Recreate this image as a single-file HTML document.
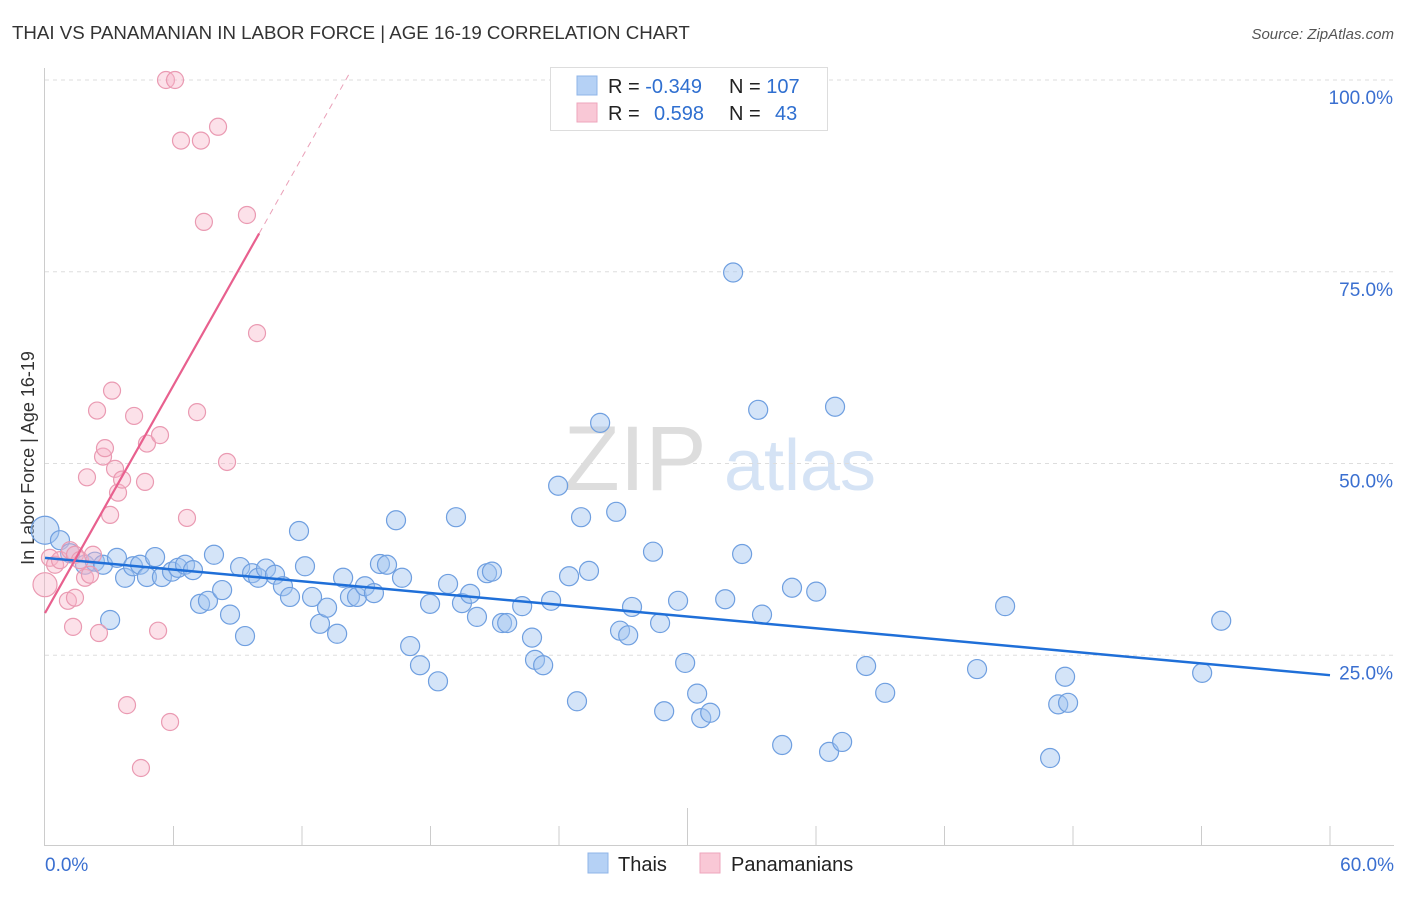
<!DOCTYPE html>
<html><head><meta charset="utf-8"><style>
body{margin:0;background:#fff;width:1406px;height:892px;overflow:hidden;font-family:"Liberation Sans",sans-serif}
svg text{font-family:"Liberation Sans",sans-serif}
</style></head><body>
<svg id="c" width="1406" height="892" xmlns="http://www.w3.org/2000/svg">
<text x="12" y="39" font-size="18.7" fill="#333">THAI VS PANAMANIAN IN LABOR FORCE | AGE 16-19 CORRELATION CHART</text>
<text x="1394" y="39" font-size="15" fill="#555" font-style="italic" text-anchor="end">Source: ZipAtlas.com</text>
<text x="635" y="490" font-size="92" fill="#ddd" font-family="Liberation Serif" text-anchor="middle">ZIP</text>
<text x="800" y="490" font-size="72" fill="#d5e3f5" text-anchor="middle">atlas</text>
<text transform="translate(34,458) rotate(-90)" font-size="18" fill="#333" text-anchor="middle">In Labor Force | Age 16-19</text>
<g id="grid"></g><g id="pts"></g><g id="lines"></g>
<g>
<rect x="550.5" y="67.5" width="277" height="63" fill="#fff" stroke="#ddd"/>
<rect x="577" y="76" width="20" height="19" fill="#b5d1f5" stroke="#8fb5e8"/>
<rect x="577" y="103" width="20" height="19" fill="#f9c8d6" stroke="#eea6bc"/>
<text x="608" y="93" font-size="20" fill="#222">R = <tspan fill="#2f6fd0">-0.349</tspan></text>
<text x="729" y="93" font-size="20" fill="#222">N = <tspan fill="#2f6fd0">107</tspan></text>
<text x="608" y="120" font-size="20" fill="#222">R = <tspan fill="#2f6fd0" x="654">0.598</tspan></text>
<text x="729" y="120" font-size="20" fill="#222">N = <tspan fill="#2f6fd0" x="775">43</tspan></text>
</g>
<g>
<rect x="588" y="853" width="20" height="20" fill="#b5d1f5" stroke="#8fb5e8"/>
<text x="618" y="871" font-size="20" fill="#222">Thais</text>
<rect x="700" y="853" width="20" height="20" fill="#f9c8d6" stroke="#eea6bc"/>
<text x="731" y="871" font-size="20" fill="#222">Panamanians</text>
</g>
<text x="45" y="871" font-size="19" fill="#3a6fd0">0.0%</text>
<text x="1394" y="871" font-size="19" fill="#3a6fd0" text-anchor="end">60.0%</text>
</svg>
<script>
const thaiX=[0,0.7,1.17,1.87,2.33,2.71,3.36,3.04,3.74,4.11,4.44,4.76,5.14,5.46,5.93,6.21,6.54,6.91,7.24,7.61,7.89,8.27,8.64,9.11,9.34,9.67,9.95,10.32,10.74,11.11,11.44,11.86,12.14,12.47,12.84,13.17,13.64,13.92,14.24,14.57,14.94,15.36,15.64,15.97,16.39,16.67,17.05,17.51,17.98,18.35,18.82,19.19,19.47,19.85,20.17,20.64,20.87,21.34,21.58,22.28,22.74,22.88,23.26,23.63,23.96,24.47,24.84,25.03,25.40,25.92,26.67,26.85,27.23,27.41,28.39,28.72,28.91,29.56,29.89,30.45,30.64,31.06,31.76,32.13,32.55,33.30,33.48,34.42,34.88,36.01,36.61,36.89,37.22,38.34,39.23,43.52,44.83,46.93,47.31,47.63,47.77,54.03,54.92];
const thaiY=[41.3,40.0,38.3,36.8,37.2,36.8,37.7,29.6,35.1,36.6,36.8,35.2,37.8,35.2,35.9,36.4,36.8,36.1,31.7,32.1,38.1,33.5,30.3,36.5,27.5,35.7,35.1,36.3,35.5,34.0,32.6,41.2,36.6,32.6,29.1,31.2,27.8,35.1,32.6,32.6,34.0,33.1,36.9,36.8,42.6,35.1,26.2,23.7,31.7,21.6,34.3,43.0,31.8,33.0,30.0,35.7,35.9,29.2,29.2,31.4,27.3,24.4,23.7,32.1,47.1,35.3,19.0,43.0,36.0,55.3,43.7,28.2,27.6,31.3,38.5,29.2,17.7,32.1,24.0,20.0,16.8,17.5,32.3,74.9,38.2,57.0,30.3,13.3,33.8,33.3,12.4,57.4,13.7,23.6,20.1,23.2,31.4,11.6,18.6,22.2,18.8,22.7,29.5];
const panX=[0,0.23,0.47,0.7,1.17,1.4,1.63,1.87,2.1,2.24,1.07,1.31,1.4,2.52,3.04,1.96,2.71,2.8,3.27,3.41,3.6,2.43,3.13,4.16,4.67,4.76,5.37,6.63,5.28,3.83,5.84,4.48,7.1,8.5,9.9,5.65,6.07,6.35,7.28,8.08,7.42,9.43];
const panY=[34.2,37.7,36.8,37.4,38.7,38.1,37.4,35.1,35.5,38.1,32.1,28.7,32.5,27.9,43.3,48.2,50.9,52.0,49.3,46.2,47.9,56.9,59.5,56.2,47.6,52.6,53.7,42.9,28.2,18.5,16.3,10.3,56.7,50.2,67.0,100,100,92.1,92.1,93.9,81.5,82.4];
const yTicks=[25,50,75,100];
const xTicks=[0,6,12,18,24,30,36,42,48,54,60];
const thaiTrend=[37.7,-0.255];
const panTrend=[30.5,4.95];
const NS='http://www.w3.org/2000/svg';
const sx=v=>45+v*1285/60, sy=v=>847-v*7.67;
function mk(tag,attrs,parent){const e=document.createElementNS(NS,tag);for(const k in attrs)e.setAttribute(k,attrs[k]);parent.appendChild(e);return e;}
const grid=document.getElementById('grid');
yTicks.forEach(t=>{
 const l=mk('line',{x1:45,x2:1394,y1:sy(t),y2:sy(t),stroke:'#ddd','stroke-dasharray':'4,4'},grid);
 
 
 const tx=mk('text',{x:1393,y:sy(t)+24,'font-size':19,fill:'#3a6fd0','text-anchor':'end'},grid);
 tx.textContent=t.toFixed(1)+'%';
 
 
});
const ax=mk('line',{x1:45,x2:1394,y1:845.5,y2:845.5,stroke:'#ccc'},grid);


const ay=mk('line',{x1:44.5,x2:44.5,y1:68,y2:846,stroke:'#ccc'},grid);


xTicks.forEach((t,i)=>{
 if(i===0)return;
 const l=mk('line',{x1:sx(t),x2:sx(t),y1:(t===30?808:826),y2:846,stroke:'#ccc'},grid);
 
 
});
const pts=document.getElementById('pts');
thaiX.forEach((x,i)=>{
 const c=mk('circle',{cx:sx(x),cy:sy(thaiY[i]),r:i===0?14:9.5,fill:'rgba(160,196,240,0.45)',stroke:'#6f9fe0','stroke-width':1.2},pts);
 
 
});
panX.forEach((x,i)=>{
 const c=mk('circle',{cx:sx(x),cy:sy(panY[i]),r:i===0?12:8.5,fill:'rgba(248,180,200,0.4)',stroke:'#ea9ab2','stroke-width':1.2},pts);
 
 
});
const lines=document.getElementById('lines');
const tl=mk('line',{x1:sx(0),y1:sy(thaiTrend[0]),x2:sx(60),y2:sy(thaiTrend[0]+thaiTrend[1]*60),stroke:'#1f6fd8','stroke-width':2.5},lines);


const pl=mk('line',{x1:sx(0),y1:sy(panTrend[0]),x2:sx(10),y2:sy(panTrend[0]+panTrend[1]*10),stroke:'#e8608e','stroke-width':2.2},lines);


const xe=(101-panTrend[0])/panTrend[1];
const pd=mk('line',{x1:sx(10),y1:sy(panTrend[0]+panTrend[1]*10),x2:sx(xe),y2:sy(101),stroke:'#eaa0b8','stroke-width':1,'stroke-dasharray':'6,5'},lines);


</script>
</body></html>
